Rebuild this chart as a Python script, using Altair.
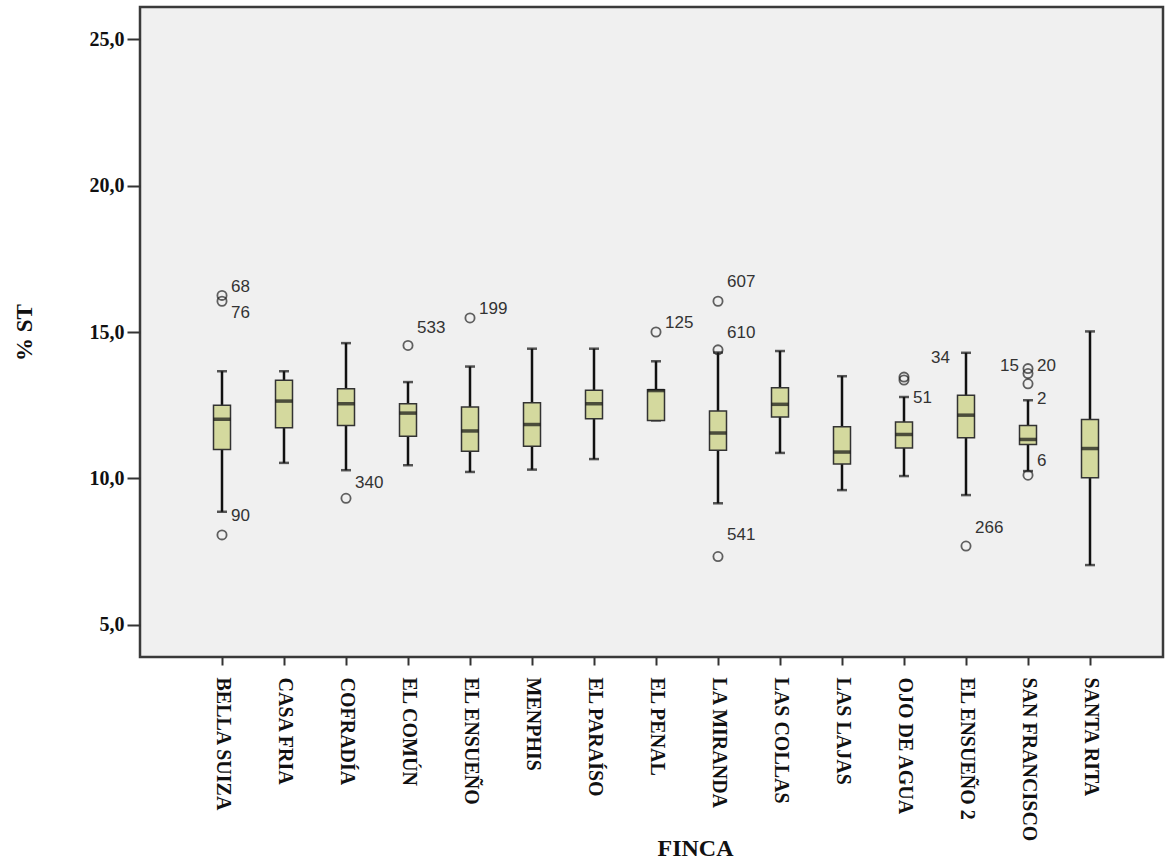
import altair as alt
import pandas as pd

# Farms along the x axis, in display order
fincas = ["BELLA SUIZA", "CASA FRIA", "COFRADÍA", "EL COMÚN", "EL ENSUEÑO",
          "MENPHIS", "EL PARAÍSO", "EL PENAL", "LA MIRANDA", "LAS COLLAS",
          "LAS LAJAS", "OJO DE AGUA", "EL ENSUEÑO 2", "SAN FRANCISCO", "SANTA RITA"]

# Box-plot statistics of % ST for each farm
whisker_low = [8.86, 10.53, 10.28, 10.45, 10.22, 10.30, 10.66, 11.98, 9.15, 10.87, 9.60, 10.08, 9.43, 10.25, 7.04]
q1 = [10.99, 11.73, 11.81, 11.44, 10.93, 11.10, 12.04, 11.98, 10.96, 12.10, 10.49, 11.04, 11.39, 11.16, 10.02]
median = [12.02, 12.64, 12.55, 12.23, 11.62, 11.84, 12.55, 13.00, 11.55, 12.53, 10.90, 11.50, 12.16, 11.33, 11.02]
q3 = [12.50, 13.35, 13.06, 12.55, 12.44, 12.58, 13.01, 13.03, 12.30, 13.10, 11.76, 11.93, 12.84, 11.81, 12.01]
whisker_high = [13.66, 13.66, 14.62, 13.29, 13.82, 14.43, 14.43, 14.00, 14.30, 14.35, 13.49, 12.78, 14.29, 12.67, 15.02]

# Outlying cases
outlier_finca = ["BELLA SUIZA", "BELLA SUIZA", "BELLA SUIZA", "COFRADÍA", "EL COMÚN",
                 "EL ENSUEÑO", "EL PENAL", "LA MIRANDA", "LA MIRANDA", "LA MIRANDA",
                 "OJO DE AGUA", "OJO DE AGUA", "EL ENSUEÑO 2", "SAN FRANCISCO",
                 "SAN FRANCISCO", "SAN FRANCISCO", "SAN FRANCISCO"]
outlier_value = [16.25, 16.05, 8.07, 9.32, 14.54, 15.48, 15.00, 16.05, 14.39, 7.33,
                 13.46, 13.36, 7.69, 13.75, 13.58, 13.23, 10.11]

# Case-number labels and the level each one is written at
label_text = ["68", "76", "90", "340", "533", "199", "125", "607", "610", "541",
              "34", "51", "266", "15", "20", "2", "6"]
label_finca = ["BELLA SUIZA", "BELLA SUIZA", "BELLA SUIZA", "COFRADÍA", "EL COMÚN",
               "EL ENSUEÑO", "EL PENAL", "LA MIRANDA", "LA MIRANDA", "LA MIRANDA",
               "OJO DE AGUA", "OJO DE AGUA", "EL ENSUEÑO 2", "SAN FRANCISCO",
               "SAN FRANCISCO", "SAN FRANCISCO", "SAN FRANCISCO"]
label_level = [16.55, 15.65, 8.70, 9.85, 15.15, 15.80, 15.30, 16.70, 14.95, 8.05,
               14.10, 12.75, 8.30, 13.85, 13.85, 12.70, 10.60]
label_side = ["right", "right", "right", "right", "right", "right", "right", "right",
              "right", "right", "far", "right", "right", "left", "right", "right", "right"]

boxes = pd.DataFrame({
    "FINCA": fincas, "lo": whisker_low, "q1": q1, "med": median,
    "q3": q3, "hi": whisker_high,
})
outliers = pd.DataFrame({"FINCA": outlier_finca, "v": outlier_value})
labels = pd.DataFrame({"FINCA": label_finca, "v": label_level,
                       "txt": label_text, "side": label_side})

SERIF = "Liberation Serif"
SANS = "Liberation Sans"

x_enc = alt.X(
    "FINCA:N", sort=fincas, title="FINCA",
    scale=alt.Scale(type="point", range=[82, 950], padding=0),
    axis=alt.Axis(
        labelAngle=90, labelFont=SERIF, labelFontWeight="bold", labelFontSize=20,
        labelColor="#111", labelPadding=12, tickSize=8, tickColor="#333",
        tickWidth=2, domain=False, titleFont=SERIF, titleFontWeight="bold",
        titleFontSize=24, titleColor="#111", titleX=555, titleY=191,
        titleBaseline="middle", titleAlign="center",
    ),
)
y_scale = alt.Scale(domain=[3.9, 26.1], nice=False, zero=False)
y_axis = alt.Axis(
    values=[5, 10, 15, 20, 25], grid=False, domain=False,
    labelExpr="replace(format(datum.value, '.1f'), '.', ',')",
    labelFont=SERIF, labelFontWeight="bold", labelFontSize=20, labelColor="#111",
    tickSize=13, tickColor="#333", tickWidth=2, labelPadding=3,
    titleFont=SERIF, titleFontWeight="bold", titleFontSize=23, titleColor="#111",
    titlePadding=53,
)

whiskers = alt.Chart(boxes).mark_rule(color="#111", strokeWidth=2.5).encode(
    x=x_enc,
    y=alt.Y("lo:Q", scale=y_scale, axis=y_axis, title="% ST"),
    y2="hi:Q",
)
caps_hi = alt.Chart(boxes).mark_tick(color="#111", thickness=2.5, size=10, orient="horizontal").encode(
    x=x_enc, y=alt.Y("hi:Q", scale=y_scale)
)
caps_lo = alt.Chart(boxes).mark_tick(color="#111", thickness=2.5, size=10, orient="horizontal").encode(
    x=x_enc, y=alt.Y("lo:Q", scale=y_scale)
)
box = alt.Chart(boxes).mark_bar(
    size=17, color="#d4d99e", stroke="#333", strokeWidth=1.5
).encode(x=x_enc, y=alt.Y("q1:Q", scale=y_scale), y2="q3:Q")
med = alt.Chart(boxes).mark_tick(color="#111", thickness=3.5, size=17, orient="horizontal").encode(
    x=x_enc, y=alt.Y("med:Q", scale=y_scale)
)
points = alt.Chart(outliers).mark_point(
    shape="circle", size=85, filled=False, color="#222", strokeWidth=1.8
).encode(x=x_enc, y=alt.Y("v:Q", scale=y_scale))


def label_layer(side, align, dx):
    return alt.Chart(labels).transform_filter(
        alt.datum.side == side
    ).mark_text(
        font=SANS, fontSize=17, color="#333", align=align, baseline="middle", dx=dx
    ).encode(x=x_enc, y=alt.Y("v:Q", scale=y_scale), text="txt:N")


chart = alt.layer(
    whiskers, caps_hi, caps_lo, box, med, points,
    label_layer("right", "left", 9),
    label_layer("left", "right", -9),
    label_layer("far", "left", 27),
).properties(
    width=1023, height=650,
    autosize=alt.AutoSizeParams(type="none"),
    padding={"left": 140, "top": 7, "right": 8, "bottom": 204},
    background="white",
).configure_view(
    fill="#f0f0f0", stroke="#3a3a3a", strokeWidth=2.5
)

chart.save("out.html", embed_options={"renderer": "svg", "actions": False})
